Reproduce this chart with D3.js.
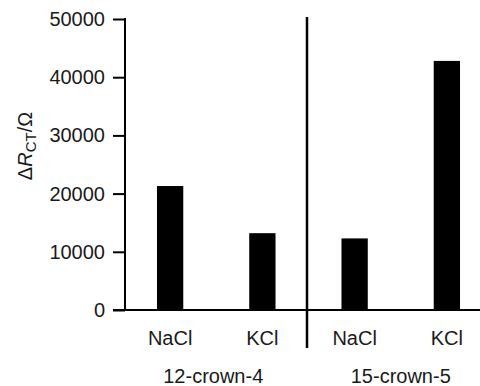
<!DOCTYPE html>
<html>
<head>
<meta charset="utf-8">
<script src="https://cdn.jsdelivr.net/npm/d3@7"></script>
<style>
  body { margin: 0; background: #fff; }
  text { font-family: "Liberation Sans", Arial, sans-serif; fill: #1a1a1a; }
</style>
</head>
<body>
<svg id="chart"></svg>
<script>
// data
var salts = ["NaCl", "KCl", "NaCl", "KCl"];
var crowns = ["12-crown-4", "15-crown-5"];
var deltaR = [21300, 13200, 12300, 42800];
var yTicks = [0, 10000, 20000, 30000, 40000, 50000];

var width = 480, height = 386;

var svg = d3.select("#chart")
            .attr("width", width)
            .attr("height", height);

// scales
var xScale = d3.scaleBand()
               .domain(d3.range(salts.length))
               .range([124, 493])
               .paddingInner(0.715)
               .paddingOuter(0.3575);

var yScale = d3.scaleLinear()
               .domain([0, 50000])
               .range([310, 19]);

// bars
svg.append("g").selectAll("rect")
   .data(deltaR).enter()
   .append("rect")
   .attr("x", function(d, i) { return xScale(i); })
   .attr("y", function(d) { return yScale(d); })
   .attr("width", xScale.bandwidth())
   .attr("height", function(d) { return yScale(0) - yScale(d); })
   .attr("fill", "#000");

// y axis
var y_axis = d3.axisLeft(yScale)
               .tickValues(yTicks)
               .tickSize(12)
               .tickPadding(8)
               .tickFormat(d3.format("d"));
var yg = svg.append("g")
            .attr("transform", "translate(125,0)")
            .call(y_axis);
yg.select(".domain").remove();
yg.selectAll(".tick line").attr("stroke", "#000").attr("stroke-width", 2);
yg.selectAll(".tick text").attr("font-size", 20).attr("fill", "#1a1a1a")
  .attr("font-family", "Liberation Sans, Arial, sans-serif");

// axis line + baseline
svg.append("line")
   .attr("x1", 125).attr("x2", 125)
   .attr("y1", yScale(50000) - 1).attr("y2", yScale(0))
   .attr("stroke", "#000").attr("stroke-width", 2);
svg.append("line")
   .attr("x1", 113).attr("x2", width)
   .attr("y1", yScale(0)).attr("y2", yScale(0))
   .attr("stroke", "#000").attr("stroke-width", 2);

// divider between the two crowns
var step = xScale.step();
var divX = xScale(2) - step * xScale.paddingInner() / 2 - 1.5;
svg.append("line")
   .attr("x1", divX).attr("x2", divX)
   .attr("y1", 17).attr("y2", 348)
   .attr("stroke", "#000").attr("stroke-width", 2.5);

// salt labels
svg.append("g").selectAll("text")
   .data(salts).enter()
   .append("text")
   .attr("x", function(d, i) { return xScale(i) + xScale.bandwidth() / 2; })
   .attr("y", 345)
   .attr("text-anchor", "middle")
   .attr("font-size", 20)
   .text(function(d) { return d; });

// crown labels
svg.append("g").selectAll("text")
   .data(crowns).enter()
   .append("text")
   .attr("x", function(d, i) {
     var a = xScale(i * 2) + xScale.bandwidth() / 2;
     var b = xScale(i * 2 + 1) + xScale.bandwidth() / 2;
     return (a + b) / 2 - (i === 0 ? 3 : 0);
   })
   .attr("y", 383)
   .attr("text-anchor", "middle")
   .attr("font-size", 20)
   .text(function(d) { return d; });

// y label: ΔR_CT/Ω
var ylab = svg.append("text")
              .attr("transform", "translate(32,146) rotate(-90)")
              .attr("text-anchor", "middle")
              .attr("fill", "#1a1a1a")
              .attr("font-size", 20);
ylab.append("tspan").text("\u0394");
ylab.append("tspan").attr("font-style", "italic").text("R");
ylab.append("tspan").attr("font-size", 15).attr("dy", 4).text("CT");
ylab.append("tspan").attr("dy", -4).text("/\u03A9");
</script>
</body>
</html>
